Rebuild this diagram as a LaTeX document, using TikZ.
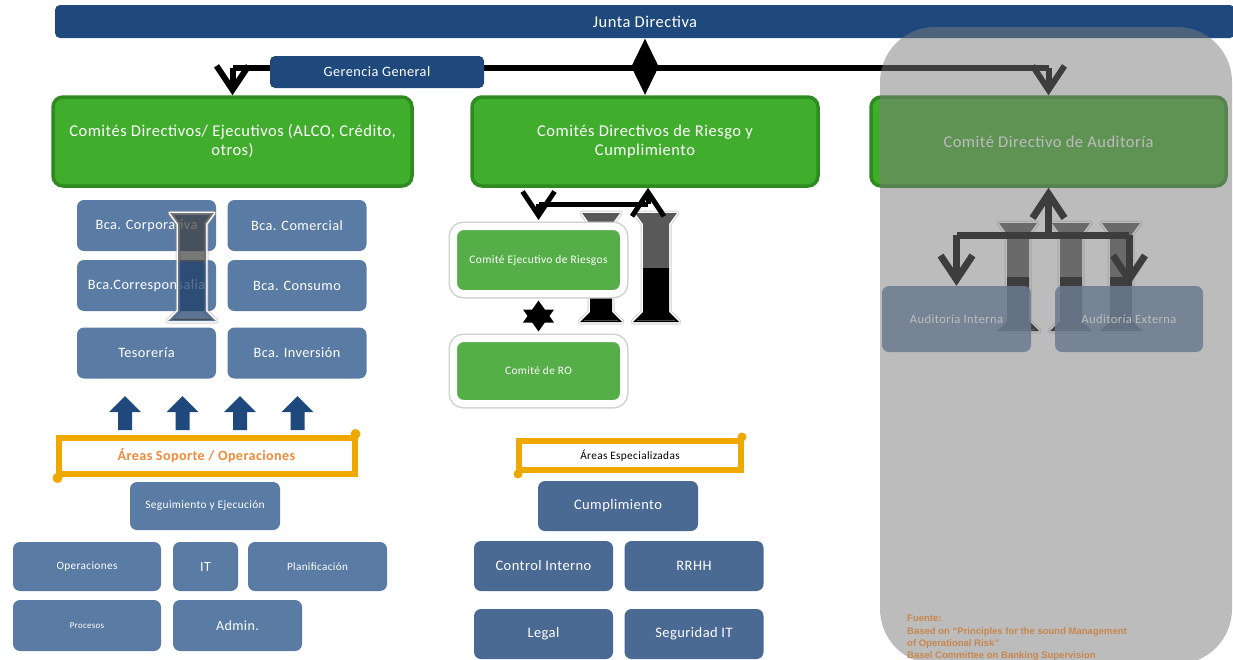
\documentclass[tikz,border=0pt]{standalone}
\usepackage{fontspec}
\setmainfont{Carlito}[LetterSpace=3]
\newfontfamily\srcfont{Liberation Sans}
\usetikzlibrary{arrows.meta,shadows}

\definecolor{navy}{HTML}{1F497D}
\definecolor{boxblue}{HTML}{5A7BA3}
\definecolor{midblue}{HTML}{4A6A93}
\definecolor{grfill}{HTML}{41AD2D}
\definecolor{grline}{HTML}{2F8A22}
\definecolor{ltgreen}{HTML}{55AE47}
\definecolor{gold}{HTML}{EEA800}
\definecolor{orangetxt}{HTML}{F08A3A}
\definecolor{srctxt}{HTML}{C8874C}
\definecolor{veil}{HTML}{7B7B7B}

% outline of the flared column ornaments
\newcommand\ibpath[4]{({#1-#4-8},#2) -- ({#1+#4+8},#2) -- ({#1+#4},{#2+11}) -- ({#1+#4},{#3-10}) -- ({#1+#4+10},#3) -- ({#1-#4-10},#3) -- ({#1-#4},{#3-10}) -- ({#1-#4},{#2+11}) -- cycle}
% #1 centre x, #2 top, #3 bottom, #4 half shaft width, #5 colour change, #6 upper colour, #7 lower colour, #8 opacity
\newcommand\ibeam[8]{%
  \draw[black!40, line width=5pt, line join=round, opacity=.45] \ibpath{#1}{#2}{#3}{#4};
  \draw[white, line width=3pt, line join=round] \ibpath{#1}{#2}{#3}{#4};
  \begin{scope}[opacity=#8]
    \clip \ibpath{#1}{#2}{#3}{#4};
    \fill[#6] ({#1-40},{#2-5}) rectangle ({#1+40},#5);
    \fill[#7] ({#1-40},#5) rectangle ({#1+40},{#3+5});
  \end{scope}
  \draw[black!70, line width=.6pt] ({#1-#4-6},{#3-2}) -- ({#1+#4+6},{#3-2});
}

\begin{document}
\begin{tikzpicture}[x=1pt,y=-1pt,
  bluebox/.style={rounded corners=7pt, fill=boxblue, text=white, align=center, inner sep=1pt},
  midbox/.style={bluebox, fill=midblue},
  greenbox/.style={rounded corners=10pt, fill=grfill, draw=grline, line width=3.5pt,
    text=white, align=center, font=\fontsize{16.5}{19}\selectfont},
  riskbox/.style={rounded corners=10pt, fill=ltgreen, draw=white, line width=7pt, text=white,
    preaction={draw=black!18, line width=10pt},
    drop shadow={shadow xshift=1.5pt, shadow yshift=-3pt, opacity=.25}},
  scrollbox/.style={draw=gold, line width=6pt, fill=white, inner sep=0pt},
  bus/.style={line width=6pt, black},
  chev/.style={-{Straight Barb[length=24pt,width=32pt]}},
  dbl/.style={{Triangle[length=30pt,width=27pt]}-{Triangle[length=30pt,width=27pt]}},
  dblx/.style={{Triangle[length=22pt,width=30pt]}-{Triangle[length=22pt,width=30pt]}},
  blockup/.style={fill=navy}
]
\useasboundingbox (0,0) rectangle (1233,659);
\fill[white] (0,0) rectangle (1233,659);

% board
\node[rounded corners=5pt, fill=navy, text=white, minimum width=1180pt, minimum height=33pt,
  font=\fontsize{16.5}{19}\selectfont] (junta) at (645,21.5) {Junta Directiva};

% management bus
\coordinate (busy) at (0,68);
\node[greenbox, minimum width=359pt, minimum height=89pt] (gL) at (232.5,141.5)
  {Comités Directivos/ Ejecutivos (ALCO, Crédito,\\ otros)};
\node[greenbox, minimum width=346pt, minimum height=89pt] (gM) at (645,141.5)
  {Comités Directivos de Riesgo y\\ Cumplimiento};
\node[greenbox, minimum width=355pt, minimum height=89pt] (gR) at (1048.5,141.5)
  {Comité Directivo de Auditoría};
\draw[bus] (gL.north |- busy) -- (gR.north |- busy);
\draw[bus, chev] (gL.north |- busy) -- (gL.north);
\draw[bus, chev] (gR.north |- busy) -- (gR.north);
\draw[bus, dbl] (gM.north |- junta.south) -- (gM.north);
\node[rounded corners=5pt, fill=navy, text=white, minimum width=214pt, minimum height=32pt,
  font=\fontsize{14.3}{16}\selectfont] (ger) at (377,72) {Gerencia General};

% business lines
\begin{scope}[every node/.style={bluebox, minimum width=139pt, minimum height=51pt, font=\fontsize{14.3}{16}\selectfont}]
  \node (corp)   at (146.5,225.5) {Bca. Corporativa};
  \node (comer)  at (297,225.5)   {Bca. Comercial};
  \node (corres) at (146.5,285.5) {Bca.Corresponsalia};
  \node (cons)   at (297,285.5)   {Bca. Consumo};
  \node (teso)   at (146.5,353)   {Tesorería};
  \node (inv)    at (297,353)     {Bca. Inversión};
\end{scope}
\ibeam{192}{213}{321}{14}{262}{black!75}{navy!80!black}{0.7}

% support areas
\foreach \cx in {125,182.5,240,297.5}
  \fill[blockup] ({\cx-7},430) -- ({\cx-7},412) -- ({\cx-16},412) -- (\cx,396)
    -- ({\cx+16},412) -- ({\cx+7},412) -- ({\cx+7},430) -- cycle;
\node[scrollbox, minimum width=296pt, minimum height=36pt, text=orangetxt,
  font=\bfseries\fontsize{14.1}{16}\selectfont] (sop) at (206.5,456) {Áreas Soporte / Operaciones};
\fill[gold] ([xshift=-2pt,yshift=1pt]sop.north east) circle (5pt);
\fill[gold] ([xshift=2pt,yshift=-1pt]sop.south west) circle (5pt);
\node[bluebox, minimum width=150pt, minimum height=48pt, font=\fontsize{11.4}{13}\selectfont] (seg) at (205,506) {Seguimiento y Ejecución};
\node[bluebox, minimum width=148pt, minimum height=49pt, font=\fontsize{11.3}{13}\selectfont] (oper) at (87,566.5) {Operaciones};
\node[bluebox, minimum width=65pt, minimum height=49pt, font=\fontsize{14}{16}\selectfont] (it) at (205.5,566.5) {IT};
\node[bluebox, minimum width=139pt, minimum height=49pt, font=\fontsize{11.2}{13}\selectfont] (plan) at (317.5,566.5) {Planificación};
\node[bluebox, minimum width=148pt, minimum height=51pt, font=\fontsize{9}{10}\selectfont] (proc) at (87,625.5) {Procesos};
\node[bluebox, minimum width=129pt, minimum height=51pt, font=\fontsize{14}{16}\selectfont] (adm) at (237.5,625.5) {Admin.};

% risk committees
\ibeam{601}{213}{322}{11}{268}{black!65}{black}{1}
\ibeam{656}{213}{322}{13}{268}{black!65}{black}{1}
\node[riskbox, minimum width=170pt, minimum height=67pt, font=\fontsize{11.5}{13}\selectfont] (ejec) at (538.5,260) {Comité Ejecutivo de Riesgos};
\node[riskbox, minimum width=170pt, minimum height=65pt, font=\fontsize{11.4}{13}\selectfont] (ro) at (538.5,371) {Comité de RO};
\coordinate (rbus) at (0,204);
\coordinate (rup) at (648,204);
\draw[bus, line width=5pt] (ejec.north |- rbus) -- (rup);
\draw[bus, line width=5pt, chev, shorten >=3pt] (ejec.north |- rbus) -- (ejec.north);
\draw[bus, line width=5pt, chev] (rup) -- (rup |- gM.south);
\draw[bus, line width=4pt, dblx, shorten <=3.5pt, shorten >=3.5pt] (ejec.south) -- (ro.north);

% specialised areas
\node[scrollbox, minimum width=222pt, minimum height=29pt, text=black,
  font=\fontsize{11.3}{13}\selectfont] (esp) at (630,455.5) {Áreas Especializadas};
\fill[gold] ([xshift=-2pt,yshift=1pt]esp.north east) circle (4.5pt);
\fill[gold] ([xshift=2pt,yshift=-1pt]esp.south west) circle (4.5pt);
\begin{scope}[every node/.style={midbox, minimum width=139pt, minimum height=50pt, font=\fontsize{14.5}{16}\selectfont}]
  \node[minimum width=160pt] (cum) at (618,506) {Cumplimiento};
  \node (ctrl)  at (543.5,566) {Control Interno};
  \node (rrhh)  at (694,566)   {RRHH};
  \node (legal) at (543.5,634) {Legal};
  \node (segit) at (694,634)   {Seguridad IT};
\end{scope}

% audit
\ibeam{1018}{223}{331}{11}{277}{black!65}{black}{1}
\ibeam{1071}{223}{331}{11}{277}{black!65}{black}{1}
\ibeam{1121}{223}{331}{11}{277}{black!65}{black}{1}
\coordinate (abus) at (0,235);
\node[bluebox, fill opacity=.85, text opacity=1, minimum width=149pt, minimum height=66pt, font=\fontsize{12.6}{14}\selectfont] (ai) at (956.5,319) {Auditoría Interna};
\node[bluebox, fill opacity=.85, text opacity=1, minimum width=148pt, minimum height=66pt, font=\fontsize{12.6}{14}\selectfont] (ae) at (1129,319) {Auditoría Externa};
\draw[bus, line width=7pt] (ai.north |- abus) -- (ae.north |- abus);
\draw[bus, line width=7pt, chev] (gR.south |- abus) -- (gR.south);
\draw[bus, line width=7pt, chev] (ai.north |- abus) -- (ai.north);
\draw[bus, line width=7pt, chev] (ae.north |- abus) -- (ae.north);

% grey veil over the audit column
\fill[veil, opacity=.5, rounded corners=55pt] (880,27) rectangle (1232,664);

\node[anchor=north west, align=left, inner sep=0pt, text=srctxt,
  font=\srcfont\bfseries\fontsize{9.5}{12.3}\selectfont] (src) at (907,615)
  {Fuente:\\ Based on “Principles for the sound Management\\ of Operational Risk”\\ Basel Committee on Banking Supervision};
\end{tikzpicture}
\end{document}
